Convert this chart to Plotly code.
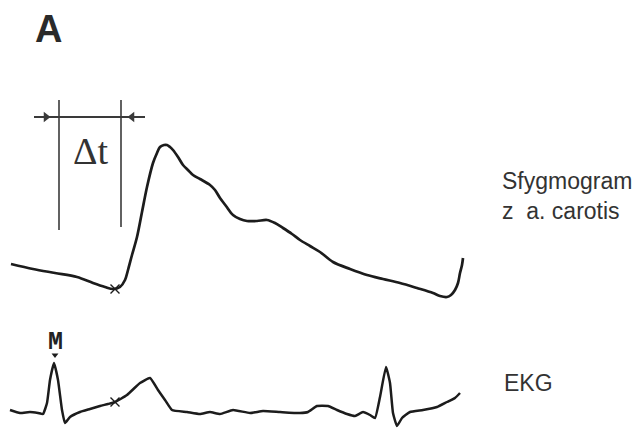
import plotly.graph_objects as go

# Traced values (picture coordinates: x to the right, y downward)
pulse_x = [11, 33, 55, 77, 93, 105, 113, 120, 125, 128, 132, 137, 142, 147, 153, 157, 160, 164, 167, 170,
           173, 178, 183, 188, 193, 200, 210, 215, 220, 226, 233, 240, 247, 257, 267, 275, 283, 292, 300, 310,
           320, 333, 350, 367, 383, 400, 417, 433, 440, 447, 451, 455, 458, 460, 462, 463]
pulse_y = [264, 269, 273, 277, 283, 287, 289, 287, 280, 270, 255, 237, 212, 187, 163, 153, 147, 145, 145, 147,
           150, 157, 165, 170, 175, 179, 185, 190, 198, 206, 215, 219, 221, 221, 220, 223, 228, 234, 240, 246,
           252, 262, 269, 275, 279, 283, 288, 293, 296, 297, 295, 290, 283, 273, 265, 258]

ekg_x = [10, 20, 30, 38, 43, 47, 50, 54, 58, 62, 65, 70, 80, 90, 100, 108, 115, 127, 140, 150, 158, 165, 172,
         187, 200, 210, 220, 233, 250, 263, 280, 300, 308, 317, 328, 337, 347, 355, 363, 370, 375, 380, 386,
         390, 393, 397, 402, 410, 423, 437, 447, 455, 460]
ekg_y = [410, 413, 412, 413, 414, 403, 380, 363, 380, 410, 423, 417, 412, 409, 406, 404, 402, 395, 383, 378,
         390, 400, 410, 412, 414, 412, 414, 410, 413, 411, 412, 413, 412, 406, 406, 410, 414, 416, 412, 415,
         418, 397, 367, 383, 413, 426, 418, 412, 410, 407, 402, 398, 393]

cross_x = [115, 115]
cross_y = [289, 402]

delta_lines_x = [59, 121]
delta_top = 100
delta_bottom = [230, 227]
arrow_y = 117
arrow_span = [34, 145]
arrow_heads_x = [46, 132]

labels = {
    "panel": "A",
    "delta": "Δt",
    "pulse1": "Sfygmogram",
    "pulse2": "z  a. carotis",
    "ekg": "EKG",
    "m": "M",
}

curve_col = "#1c1c1c"
thin_col = "#3a3a3a"
text_col = "#333333"

fig = go.Figure()

fig.add_trace(go.Scatter(x=pulse_x, y=pulse_y, mode="lines",
                         line=dict(color=curve_col, width=2.7, shape="spline", smoothing=0.9),
                         hoverinfo="skip", showlegend=False))
fig.add_trace(go.Scatter(x=ekg_x, y=ekg_y, mode="lines",
                         line=dict(color=curve_col, width=2.5, shape="spline", smoothing=0.4),
                         hoverinfo="skip", showlegend=False))
fig.add_trace(go.Scatter(x=cross_x, y=cross_y, mode="markers",
                         marker=dict(symbol="x-thin", size=9, line=dict(color=curve_col, width=1.4)),
                         hoverinfo="skip", showlegend=False))

# Δt bracket
for xv, yb in zip(delta_lines_x, delta_bottom):
    fig.add_shape(type="line", x0=xv, x1=xv, y0=delta_top, y1=yb,
                  line=dict(color=thin_col, width=1.6))
fig.add_shape(type="line", x0=arrow_span[0], x1=arrow_span[1], y0=arrow_y, y1=arrow_y,
              line=dict(color=thin_col, width=1.8))
fig.add_trace(go.Scatter(x=arrow_heads_x, y=[arrow_y, arrow_y], mode="markers",
                         marker=dict(symbol=["triangle-right", "triangle-left"], size=9, color=thin_col),
                         hoverinfo="skip", showlegend=False))

# M marker
fig.add_trace(go.Scatter(x=[55], y=[355], mode="markers",
                         marker=dict(symbol="triangle-down", size=6, color=curve_col),
                         hoverinfo="skip", showlegend=False))

ann = [
    dict(x=48, y=29, text="<b>" + labels["panel"] + "</b>",
         font=dict(family="Liberation Sans", size=38, color="#2a2a2a"), xanchor="center", yanchor="middle"),
    dict(x=90, y=151, text=labels["delta"], font=dict(family="Liberation Serif", size=38, color="#333333"),
         xanchor="center", yanchor="middle"),
    dict(x=500, y=181, text=labels["pulse1"], font=dict(family="Liberation Sans", size=23, color=text_col),
         xanchor="left", yanchor="middle"),
    dict(x=500, y=211, text=labels["pulse2"], font=dict(family="Liberation Sans", size=23, color=text_col),
         xanchor="left", yanchor="middle"),
    dict(x=502, y=383, text=labels["ekg"], font=dict(family="Liberation Sans", size=23, color=text_col),
         xanchor="left", yanchor="middle"),
    dict(x=55, y=342, text="<b>" + labels["m"] + "</b>",
         font=dict(family="Liberation Mono", size=25, color="#222222"), xanchor="center", yanchor="middle"),
]
for a in ann:
    a.update(showarrow=False, xref="x", yref="y")
    fig.add_annotation(**a)

fig.update_layout(
    width=636, height=428,
    margin=dict(l=0, r=0, t=0, b=0),
    paper_bgcolor="white", plot_bgcolor="white",
    xaxis=dict(range=[0, 636], visible=False, fixedrange=True),
    yaxis=dict(range=[428, 0], visible=False, fixedrange=True),
    showlegend=False,
)

fig.write_html("out.html")
